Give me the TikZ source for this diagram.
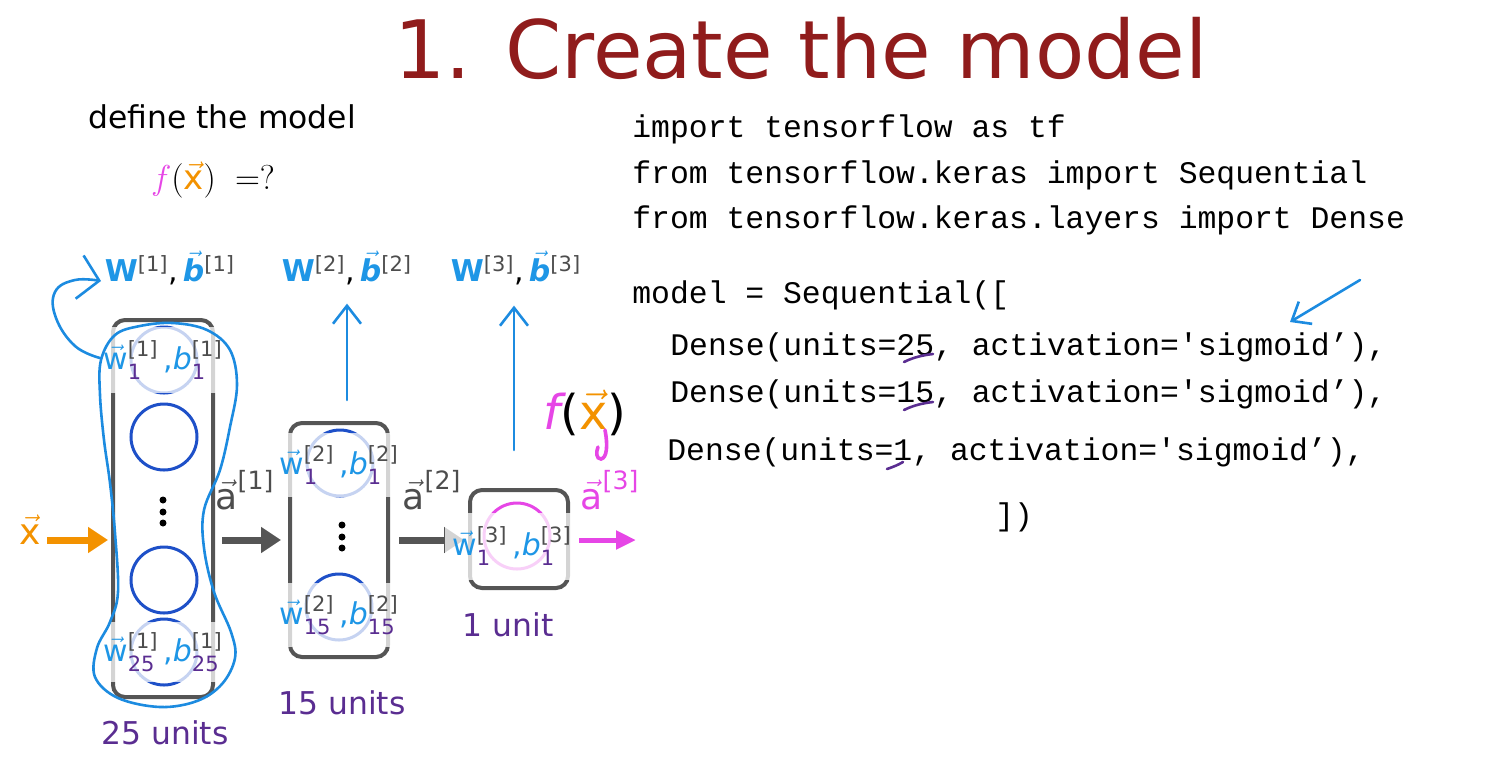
\documentclass[tikz,border=0pt]{standalone}
\usepackage{fontspec}
\usepackage{amsmath}
\setmainfont{DejaVu Sans}
\setmonofont{Liberation Mono}
\usetikzlibrary{arrows.meta}

\definecolor{titlered}{HTML}{901C1C}
\definecolor{boxgray}{HTML}{555555}
\definecolor{supgray}{HTML}{4D4D4D}
\definecolor{subpurple}{HTML}{5A2D91}
\definecolor{wblue}{HTML}{1E96E6}
\definecolor{handblue}{HTML}{1C8BE0}
\definecolor{unitblue}{HTML}{1E50C8}
\definecolor{mag}{HTML}{E646E6}
\definecolor{xorange}{HTML}{F39200}

\newcommand{\codefont}{\ttfamily\fontsize{15.7}{18}\selectfont}
\newcommand{\wlabel}[2]{$\textcolor{wblue}{\vec{\text{w}}}%
^{\textcolor{supgray}{\text{[#1]}}}_{\textcolor{subpurple}{\text{#2}}}%
\,\textcolor{wblue}{\text{,}}%
\textcolor{wblue}{\text{\itshape b}}%
^{\textcolor{supgray}{\text{[#1]}}}_{\textcolor{subpurple}{\text{#2}}}$}
\newcommand{\Wlabel}[1]{$\textcolor{wblue}{\text{\bfseries W}}%
^{\textcolor{supgray}{\text{[#1]}}}\text{,}\,%
\textcolor{wblue}{\vec{\text{\bfseries\itshape b}}}%
^{\textcolor{supgray}{\text{[#1]}}}$}
\newcommand{\alabel}[1]{$\vec{\text{a}}^{\text{[#1]}}$}

\tikzset{
  layer/.style={draw=boxgray, line width=2pt, rounded corners=6pt, inner sep=0pt},
  unit/.style={circle, draw=unitblue, line width=1.5pt, minimum size=33pt, inner sep=0pt},
  mask/.style={fill=white, fill opacity=0.75, text opacity=1, inner sep=0pt,
    font=\fontsize{15}{17}\selectfont},
  flow/.style={line width=3.5pt, -{Triangle[length=10pt,width=12.5pt]}},
  hand/.style={handblue, line width=1.3pt, line cap=round, line join=round},
  barb/.style={-{Straight Barb[length=9pt,width=14pt]}},
  code/.style={anchor=base west, inner sep=0pt, font=\codefont},
  units/.style={text=subpurple, inner sep=0pt, font=\fontsize{15.7}{18}\selectfont},
  act/.style={inner sep=0pt, font=\fontsize{18}{20}\selectfont},
}

\begin{document}
\begin{tikzpicture}[x=0.5pt, y=-0.5pt]
\useasboundingbox (0,0) rectangle (1511,757);

% title and question
\node[anchor=base, text=titlered, inner sep=0pt, font=\fontsize{40.3}{46}\selectfont] (title) at (801,78) {1. Create the model};
\node[anchor=base west, inner sep=0pt, font=\fontsize{15.7}{18}\selectfont] (define) at (88,128) {define the model};
\node[inner sep=0pt, font=\fontsize{17}{20}\selectfont] (fq) at (213,180) {$\textcolor{mag}{f}(\textcolor{xorange}{\vec{\mathrm{x}}})\;=?$};

% layers
\node[layer, minimum width=50pt, minimum height=188.5pt] (l1) at (163,508.5) {};
\node[layer, minimum width=49pt, minimum height=117pt] (l2) at (339,540) {};
\node[layer, minimum width=49pt, minimum height=49pt] (l3) at (519,539) {};

\node[unit] (u1a) at (164,360) {};
\node[unit] (u1b) at (164,437) {};
\node[unit] (u1c) at (164,580) {};
\node[unit] (u1d) at (164,652) {};
\node[unit] (u2a) at (340,463) {};
\node[unit] (u2b) at (339,607) {};
\node[unit, draw=mag] (u3a) at (517,536) {};
\foreach \y in {500,512,523} \fill (163,\y) circle[radius=3.5];
\foreach \y in {525,537,548} \fill (342,\y) circle[radius=3.5];

% activations
\node[act, text=xorange] (xin) at (30,530) {$\vec{\text{x}}$};
\draw[flow, xorange, shorten <=3pt, shorten >=1.5pt] (xin.east |- l2.west) -- (l1.west |- l2.west);
\draw[flow, boxgray, shorten <=3.5pt, shorten >=3.5pt] (l1.east |- l2.west) -- (l2.west);
\draw[flow, boxgray, shorten <=4.5pt, shorten >=2pt] (l2.east) -- (l3.west |- l2.east);

% parameter labels (veil over the units)
\node[mask, minimum width=59pt, minimum height=33pt] (m1a) at (163,360) {\wlabel{1}{1}};
\node[mask, minimum width=59pt, minimum height=30pt] (m1d) at (163,652) {\wlabel{1}{25}};
\node[mask, minimum width=55pt, minimum height=32pt] (m2a) at (339,465) {\wlabel{2}{1}};
\node[mask, minimum width=55pt, minimum height=32pt] (m2b) at (339,615) {\wlabel{2}{15}};
\node[mask, minimum width=67pt, minimum height=33.5pt] (m3) at (512,546) {\wlabel{3}{1}};

\coordinate (out) at (636,540);
\draw[mag, line width=2.5pt, -{Triangle[length=10pt,width=9pt]}] (m3.east |- out) -- (out);

\node[act, text=supgray] (a1) at (245,490) {\alabel{1}};
\node[act, text=supgray] (a2) at (432,490) {\alabel{2}};
\node[act, text=mag] (a3) at (610,490) {\alabel{3}};

\node[units] (n1) at (165,733) {25 units};
\node[units] (n2) at (342,703) {15 units};
\node[units] (n3) at (508,625) {1 unit};

\node[inner sep=0pt, font=\fontsize{15}{18}\selectfont] (W1) at (170,268) {\Wlabel{1}};
\node[inner sep=0pt, font=\fontsize{15}{18}\selectfont] (W2) at (347,268) {\Wlabel{2}};
\node[inner sep=0pt, font=\fontsize{15}{18}\selectfont] (W3) at (516,268) {\Wlabel{3}};

% handwriting
\coordinate (p2) at (347,400);
\coordinate (p3) at (514,450);
\draw[hand, barb, shorten >=9pt] (p2) -- (p2 |- W2.south);
\draw[hand, barb, shorten >=10pt] (p3) -- (p3 |- W3.south);
\draw[hand] plot[smooth cycle, tension=0.6] coordinates {
  (100,395) (101,360) (115,335) (140,326) (173,323) (207,330) (230,350)
  (237,385) (230,427) (220,470) (204,510) (204,548) (214,592) (231,632)
  (235,658) (222,684) (197,701) (160,707) (118,698) (95,677) (97,648)
  (110,622) (118,592) (115,533) (110,483) (104,440)};
\draw[hand, -{Straight Barb[length=10pt,width=22pt]}] plot[smooth, tension=0.7] coordinates {
  (100,358) (75,346) (56,318) (55,292) (75,280) (101,281)};

\node[inner sep=0pt, font=\fontsize{24}{26}\selectfont] (fx) at (585,413)
  {\textcolor{mag}{\itshape f}(\textcolor{xorange}{$\vec{\text{x}}$})};
\draw[mag, line width=1.8pt, line cap=round] (605,430) .. controls (608,445) and (607,458) .. (601,459)
  .. controls (596,459) and (596,452) .. (598,447);

% code
\node[code] (c1) at (632,137) {import tensorflow as tf};
\node[code] (c2) at (632,183) {from tensorflow.keras import Sequential};
\node[code] (c3) at (632,228) {from tensorflow.keras.layers import Dense};
\node[code] (c4) at (632,303) {model = Sequential([};
\node[code] (c5) at (670,355) {Dense(units=25, activation='sigmoid’),};
\node[code] (c6) at (670,402) {Dense(units=15, activation='sigmoid’),};
\node[code] (c7) at (667,460) {Dense(units=1, activation='sigmoid’),};
\node[code] (c8) at (995,525) {])};

\draw[subpurple, line width=1.3pt, line cap=round] (904,362) .. controls (914,357) and (924,355) .. (933,354);
\draw[subpurple, line width=1.3pt, line cap=round] (904,410) .. controls (914,405) and (924,403) .. (933,402);
\draw[subpurple, line width=1.3pt, line cap=round] (887,469) .. controls (893,467) and (898,465) .. (903,462);
\coordinate (s1) at (1360,280);
\coordinate (s2) at (1290,322);
\draw[hand, -{Straight Barb[length=8pt,width=13pt]}] (s1) -- (s2);
\end{tikzpicture}
\end{document}
